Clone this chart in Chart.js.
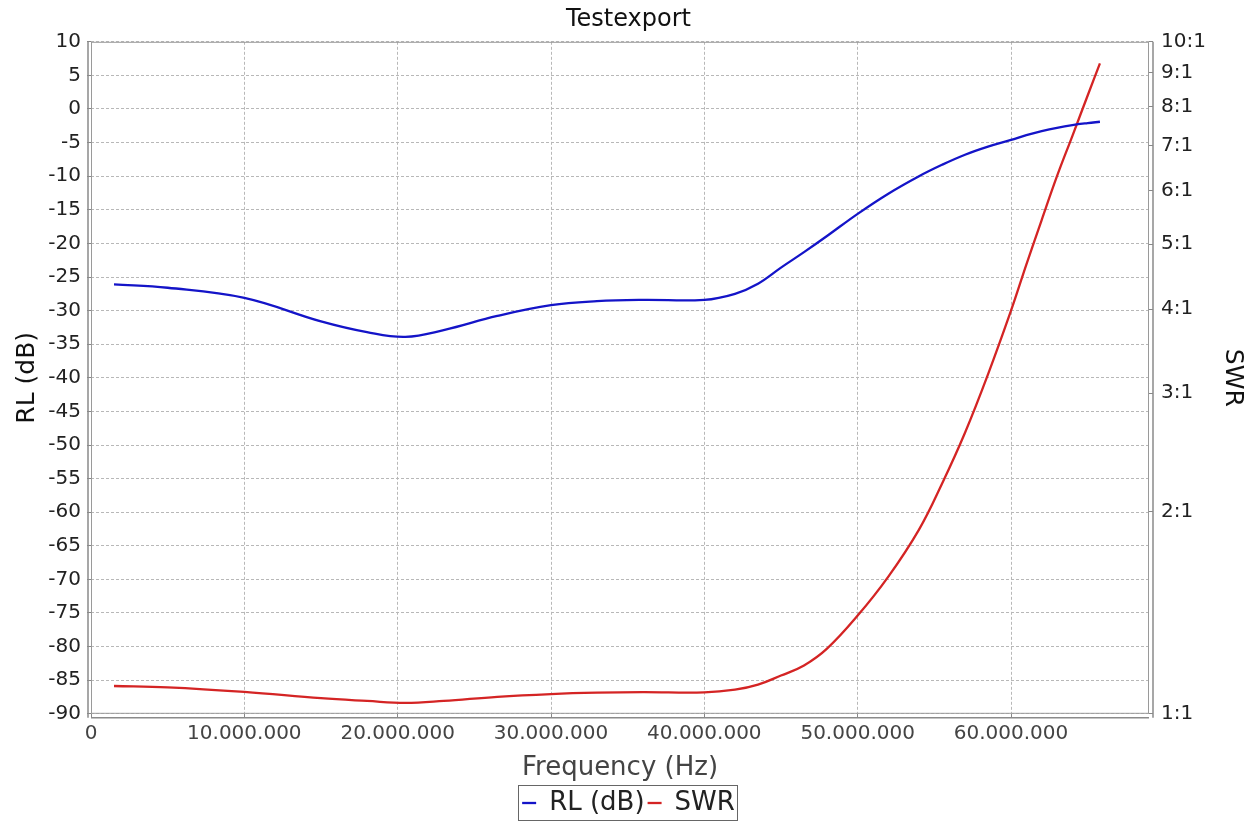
<!DOCTYPE html>
<html>
<head>
<meta charset="utf-8">
<script src="https://cdn.jsdelivr.net/npm/chart.js@4/dist/chart.umd.min.js"></script>
<style>
  html, body { margin: 0; padding: 0; background: #ffffff; }
  #wrap { width: 1257px; height: 821px; }
</style>
</head>
<body>
<div id="wrap"><canvas id="c" width="1257" height="821"></canvas></div>
<script>
// ---- data ----
const chartTitle = 'Testexport';
const xAxisTitle = 'Frequency (Hz)';
const rlTitle = 'RL (dB)';
const swrTitle = 'SWR';
const seriesNames = ['RL (dB)', 'SWR'];

// frequency in MHz
const freqMHz = [1.5, 5, 10, 15, 18, 20.5, 23, 26.5, 30, 33, 36, 40, 42, 43.5, 45, 46.5, 48, 50,
                 52, 54, 55.5, 57, 58.5, 60, 61, 62, 63, 64, 65, 65.8];
// return loss in dB
const rlDb = [-26.1, -26.6, -28.1, -31.6, -33.2, -33.9, -32.9, -30.8, -29.2, -28.6, -28.4, -28.4,
              -27.5, -26.0, -23.6, -21.3, -18.9, -15.6, -12.6, -10.0, -8.3, -6.8, -5.6, -4.6,
              -3.9, -3.3, -2.8, -2.4, -2.1, -1.9];
// standing wave ratio (n:1)
const swr = [1.10, 1.095, 1.078, 1.055, 1.045, 1.038, 1.045, 1.06, 1.07, 1.075, 1.077, 1.076,
             1.086, 1.105, 1.14, 1.18, 1.25, 1.40, 1.60, 1.88, 2.20, 2.62, 3.20, 3.98,
             4.66, 5.43, 6.31, 7.24, 8.32, 9.29];

const xTicksHz = [0, 10e6, 20e6, 30e6, 40e6, 50e6, 60e6];
const xMaxHz = 69e6;
const rlTicks = { min: -90, max: 10, step: 5 };
const swrTickValues = [1, 2, 3, 4, 5, 6, 7, 8, 9, 10];

// ---- helpers ----
function dotted(n) {
  return String(Math.round(n)).replace(/\B(?=(\d{3})+(?!\d))/g, '.');
}
const FONT = "'DejaVu Sans', sans-serif";

const framePlugin = {
  id: 'frame',
  beforeDatasetsDraw(chart) {
    const a = chart.chartArea, ctx = chart.ctx;
    ctx.save();
    ctx.strokeStyle = '#9a9a9a';
    ctx.lineWidth = 1;
    ctx.strokeRect(a.left + 0.5, a.top + 0.5, a.right - a.left - 1, a.bottom - a.top - 1);
    ctx.strokeStyle = '#8a8a8a';
    ctx.lineWidth = 1.5;
    ctx.beginPath();
    ctx.moveTo(a.left - 3, a.top);
    ctx.lineTo(a.left - 3, a.bottom + 4);
    ctx.moveTo(a.left, a.bottom + 4);
    ctx.lineTo(a.right, a.bottom + 4);
    ctx.moveTo(a.right + 4, a.top);
    ctx.lineTo(a.right + 4, a.bottom + 4);
    ctx.stroke();
    ctx.restore();
  },
  afterDraw(chart) {
    const lg = chart.legend;
    if (!lg || !lg.legendHitBoxes || !lg.legendHitBoxes.length) return;
    const hb = lg.legendHitBoxes;
    let l = Infinity, r = -Infinity, t = Infinity, b = -Infinity;
    hb.forEach(h => { l = Math.min(l, h.left); r = Math.max(r, h.left + h.width); t = Math.min(t, h.top); b = Math.max(b, h.top + h.height); });
    const ctx = chart.ctx;
    ctx.save();
    ctx.strokeStyle = '#666';
    ctx.lineWidth = 1;
    ctx.strokeRect(Math.round(l - 4) + 0.5, Math.round(t - 5) + 0.5, Math.round(r - l + 6), Math.round(b - t + 9));
    ctx.restore();
  }
};

const ds = (ys) => freqMHz.map((f, i) => ({ x: f * 1e6, y: ys[i] }));

new Chart(document.getElementById('c'), {
  type: 'line',
  data: {
    datasets: [
      { label: seriesNames[0], data: ds(rlDb), yAxisID: 'y', borderColor: '#1414c8', backgroundColor: '#1414c8',
        borderWidth: 2.3, pointRadius: 0, tension: 0.4 },
      { label: seriesNames[1], data: ds(swr), yAxisID: 'y1', borderColor: '#d42424', backgroundColor: '#d42424',
        borderWidth: 2.3, pointRadius: 0, tension: 0.4 }
    ]
  },
  options: {
    responsive: false,
    animation: false,
    layout: { padding: { top: 0, left: 0, right: 0, bottom: -5 } },
    plugins: {
      title: { display: true, text: chartTitle, color: '#111', font: { family: FONT, size: 24, weight: 'normal' },
               padding: { top: 5, bottom: 8 } },
      legend: { position: 'bottom',
        labels: { usePointStyle: true, pointStyle: 'line', pointStyleWidth: 14, boxHeight: 14,
                  padding: 3, color: '#222', font: { family: FONT, size: 26 } } },
      tooltip: { enabled: false }
    },
    scales: {
      x: {
        type: 'linear', min: 0, max: xMaxHz,
        afterBuildTicks(s) { s.ticks = xTicksHz.map(v => ({ value: v })); },
        ticks: { includeBounds: false, color: '#444', padding: 4, maxRotation: 0,
                 font: { family: FONT, size: 20 }, callback: v => dotted(v) },
        grid: { color: '#b8b8b8', lineWidth: 1, tickLength: 4, tickColor: '#888' },
        border: { display: false, dash: [3, 2] },
        title: { display: true, text: xAxisTitle, color: '#444', font: { family: FONT, size: 26 },
                 padding: { top: 3, bottom: 3 } }
      },
      y: {
        type: 'linear', position: 'left', min: rlTicks.min, max: rlTicks.max,
        afterFit(s) { s.width = 91; },
        ticks: { stepSize: rlTicks.step, color: '#222', padding: 6, font: { family: FONT, size: 20 } },
        grid: { color: '#b8b8b8', lineWidth: 1, tickLength: 4, tickColor: '#888' },
        border: { display: false, dash: [3, 2] },
        title: { display: true, text: rlTitle, color: '#111', font: { family: FONT, size: 25 },
                 padding: { top: 12, bottom: 0 } }
      },
      y1: {
        type: 'logarithmic', position: 'right', min: 1, max: 10,
        afterFit(s) { s.width = 108; },
        afterBuildTicks(s) { s.ticks = swrTickValues.map(v => ({ value: v })); },
        ticks: { color: '#222', padding: 8, font: { family: FONT, size: 20 },
                 callback: v => v + ':1', autoSkip: false },
        grid: { drawOnChartArea: false, tickLength: 4, tickColor: '#888' },
        border: { display: false },
        title: { display: true, text: swrTitle, color: '#111', font: { family: FONT, size: 25 },
                 padding: { top: 10, bottom: 0 } }
      }
    }
  },
  plugins: [framePlugin]
});
</script>
</body>
</html>
